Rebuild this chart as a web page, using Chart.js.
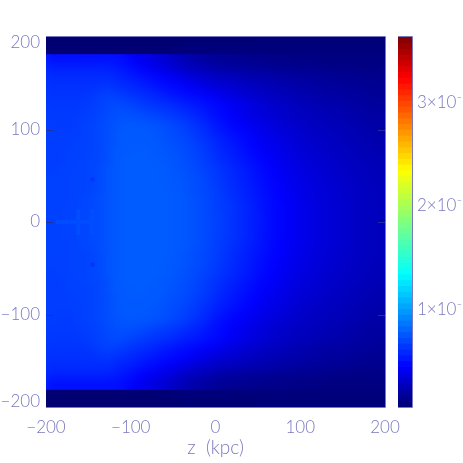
<!DOCTYPE html>
<html>
<head>
<meta charset="utf-8">
<title>z (kpc)</title>
<script src="https://cdn.jsdelivr.net/npm/chart.js@4/dist/chart.umd.min.js"></script>
<style>
  html, body { margin: 0; padding: 0; background: #fff; overflow: hidden; }
  canvas { position: absolute; left: 0; top: 0; }
</style>
</head>
<body>
<canvas id="map" width="463" height="463"></canvas>
<canvas id="bar" width="463" height="463"></canvas>
<script>
// cell centres along z (kpc)
const zCols = [-195,-185,-175,-165,-155,-145,-135,-125,-115,-105,-95,-85,-75,-65,-55,-45,-35,-25,-15,-5,
  5,15,25,35,45,55,65,75,85,95,105,115,125,135,145,155,165,175,185,195];
// row edges, top to bottom (kpc)
const rowEdges = [200,190,182,170,160,150,140,130,120,110,100,90,80,70,60,50,40,30,20,10,0,
  -10,-20,-30,-40,-50,-60,-70,-80,-90,-100,-110,-120,-130,-140,-150,-160,-170,-182,-190,-200];
// values, in units of 1e-9
const heat = [
  [6,6,6,6,6,6,6,6,6,6, 6,6,6,6,6,6,7,7,7,7, 7,7,7,7,7,8,8,8,8,8, 8,8,8,8,8,8,8,8,8,8],
  [6,6,6,6,6,6,6,6,6,6, 6,6,6,7,7,8,9,9,9,9, 9,9,9,9,9,9,9,9,9,9, 9,9,9,9,9,9,9,9,9,9],
  [50,50,50,50,50,50,50,50,50,47, 43,40,37,34,31,27,24,21,19,17, 16,15,14,14,13,13,12,12,12,11, 11,11,10,10,10,10,10,10,10,10],
  [57,57,57,57,57,57,57,56,54,51, 48,45,42,39,36,33,29,27,25,23, 21,20,19,18,17,17,16,15,15,14, 14,14,13,13,12,12,12,11,11,11],
  [60,60,60,60,60,60,60,60,58,56, 54,51,49,46,44,41,38,35,33,31, 29,28,27,25,24,23,22,21,20,19, 18,18,17,16,16,15,15,14,14,13],
  [62,62,62,62,62,62,63,64,62,60, 58,56,54,51,49,47,45,42,39,37, 35,33,31,29,28,26,25,24,23,22, 21,20,19,18,18,17,16,16,15,15],
  [63,63,63,63,63,65,67,68,67,65, 63,61,59,57,54,52,50,48,46,44, 41,38,36,34,32,30,28,27,26,24, 23,22,21,20,20,19,18,18,17,16],
  [64,64,64,64,65,66,68,70,71,70, 68,66,64,63,61,59,56,54,52,49, 47,44,41,39,36,34,32,30,29,27, 26,25,24,23,22,21,20,19,18,18],
  [65,65,65,65,66,67,69,71,73,73, 72,71,69,67,65,63,61,58,55,51, 48,45,42,39,37,35,33,31,30,28, 27,26,25,24,23,22,21,20,19,19],
  [66,65,64,66,67,68,70,72,74,75, 75,75,74,73,71,69,66,63,59,55, 51,48,45,43,40,38,36,34,32,31, 29,28,27,26,25,24,23,22,21,20],
  [66,66,66,66,67,68,70,72,75,76, 76,76,75,74,72,70,68,65,62,58, 54,51,48,46,43,40,38,36,34,32, 31,29,28,27,26,25,24,23,22,21],
  [66,66,66,67,67,68,70,72,75,76, 76,76,76,75,73,72,70,67,64,61, 57,54,51,48,45,42,40,38,36,34, 32,31,30,28,27,26,25,24,23,22],
  [66,66,67,67,67,68,70,73,76,76, 77,77,76,76,74,73,71,69,66,63, 59,56,53,50,47,44,42,40,37,35, 33,32,31,29,28,27,26,25,24,23],
  [66,66,67,67,68,69,70,73,76,77, 77,77,77,76,75,74,72,70,67,64, 61,58,55,52,49,46,44,41,39,37, 35,33,32,30,29,28,27,26,25,24],
  [66,67,67,68,68,69,71,74,76,77, 77,77,77,77,76,74,73,71,69,66, 63,60,57,54,51,48,45,43,40,38, 36,34,33,31,30,29,28,27,26,25],
  [67,67,67,68,68,69,71,74,76,77, 77,77,77,77,76,75,74,72,70,67, 64,61,58,55,52,49,46,44,41,39, 37,35,34,32,31,30,28,27,26,25],
  [67,67,67,68,68,69,71,74,76,77, 77,77,77,77,77,75,74,72,70,68, 65,62,59,56,53,50,47,45,42,40, 38,36,34,33,31,30,29,28,27,26],
  [67,67,67,68,69,70,72,74,76,77, 77,77,77,77,77,76,75,73,71,68, 66,63,60,57,54,51,48,45,43,41, 38,36,35,33,32,31,29,28,27,26],
  [67,67,68,68,69,70,72,74,76,77, 77,77,77,77,77,76,75,73,71,69, 66,64,61,58,55,51,48,46,43,41, 39,37,35,33,32,31,29,28,27,26],
  [67,67,68,68,69,70,72,74,76,77, 77,77,77,77,77,76,75,73,71,69, 67,64,61,58,55,52,48,46,43,41, 39,37,35,33,32,31,29,28,27,26],
  [67,67,68,68,69,70,72,74,76,77, 77,77,77,77,77,76,75,73,71,69, 67,64,61,58,55,52,48,46,43,41, 39,37,35,33,32,31,29,28,27,26],
  [67,67,68,68,69,70,72,74,76,77, 77,77,77,77,77,76,75,73,71,69, 66,64,61,58,55,51,48,46,43,41, 39,37,35,33,32,31,29,28,27,26],
  [67,67,67,68,69,70,72,74,76,77, 77,77,77,77,77,76,75,73,71,68, 66,63,60,57,54,51,48,45,43,41, 38,36,35,33,32,31,29,28,27,26],
  [67,67,67,68,68,69,71,74,76,77, 77,77,77,77,77,75,74,72,70,68, 65,62,59,56,53,50,47,45,42,40, 38,36,34,33,31,30,29,28,27,26],
  [67,67,67,68,68,69,71,74,76,77, 77,77,77,77,76,75,74,72,70,67, 64,61,58,55,52,49,46,44,41,39, 37,35,34,32,31,30,28,27,26,25],
  [66,67,67,68,68,69,71,74,76,77, 77,77,77,77,76,74,73,71,69,66, 63,60,57,54,51,48,45,43,40,38, 36,34,33,31,30,29,28,27,26,25],
  [66,66,67,67,68,69,70,73,76,77, 77,77,77,76,75,74,72,70,67,64, 61,58,55,52,49,46,44,41,39,37, 35,33,32,30,29,28,27,26,25,24],
  [66,66,67,67,67,68,70,73,76,76, 77,77,76,76,74,73,71,69,66,63, 59,56,53,50,47,44,42,40,37,35, 33,32,31,29,28,27,26,25,24,23],
  [66,66,66,67,67,68,70,72,75,76, 76,76,76,75,73,72,70,67,64,61, 57,54,51,48,45,42,40,38,36,34, 32,31,30,28,27,26,25,24,23,22],
  [66,66,66,66,67,68,70,72,75,76, 76,76,75,74,72,70,68,65,62,58, 54,51,48,46,43,40,38,36,34,32, 31,29,28,27,26,25,24,23,22,21],
  [66,65,64,66,67,68,70,72,74,75, 75,75,74,73,71,69,66,63,59,55, 51,48,45,43,40,38,36,34,32,31, 29,28,27,26,25,24,23,22,21,20],
  [65,65,65,65,66,67,69,71,73,73, 72,71,69,67,65,63,61,58,55,51, 48,45,42,39,37,35,33,31,30,28, 27,26,25,24,23,22,21,20,19,19],
  [64,64,64,64,65,66,68,70,71,70, 68,66,64,63,61,59,56,54,52,49, 47,44,41,39,36,34,32,30,29,27, 26,25,24,23,22,21,20,19,18,18],
  [63,63,63,63,63,65,67,68,67,65, 63,61,59,57,54,52,50,48,46,44, 41,38,36,34,32,30,28,27,26,24, 23,22,21,20,20,19,18,18,17,16],
  [62,62,62,62,62,62,63,64,62,60, 58,56,54,51,49,47,45,42,39,37, 35,33,31,29,28,26,25,24,23,22, 21,20,19,18,18,17,16,16,15,15],
  [60,60,60,60,60,60,60,60,58,56, 54,51,49,46,44,41,38,35,33,31, 29,28,27,25,24,23,22,21,20,19, 18,18,17,16,16,15,15,14,14,13],
  [57,57,57,57,57,57,57,56,54,51, 48,45,42,39,36,33,29,27,25,23, 21,20,19,18,17,17,16,15,15,14, 14,14,13,13,12,12,12,11,11,11],
  [50,50,50,50,50,50,50,50,50,47, 43,40,37,34,31,27,24,21,19,17, 16,15,14,14,13,13,12,12,12,11, 11,11,10,10,10,10,10,10,10,10],
  [6,6,6,6,6,6,6,6,6,6, 6,6,6,7,7,8,9,9,9,9, 9,9,9,9,9,9,9,9,9,9, 9,9,9,9,9,9,9,9,9,9],
  [6,6,6,6,6,6,6,6,6,6, 6,6,6,6,6,6,7,7,7,7, 7,7,7,7,7,8,8,8,8,8, 8,8,8,8,8,8,8,8,8,8]
];
// the dark bands along the top and bottom edge stay sharp
const bandRows = [0, 1, 38, 39];

// small lighter and darker marks left of the bright region: z, y low, y high, value
const markZ = [-186,-181,-176,-171,-166,-161,-156,-151,-146, -162,-162,-162,-162, -146,-146,-146,-146, -145,-145];
const markLow = [-2,-2,-2,-2,-2,-2,-2,-2,-2, 2,8,-8,-14, 2,8,-8,-14, 44,-48];
const markHigh = [2,2,2,2,2,2,2,2,2, 8,14,-2,-8, 8,14,-2,-8, 48,-44];
const markValue = [72,72,72,72,72,72,72,72,72, 72,72,72,72, 72,72,72,72, 63,63];

const axisTicks = [-200, -100, 0, 100, 200];
const barTicks = [1, 2, 3];
const barTickLabels = ["1×10⁻", "2×10⁻", "3×10⁻"];
const barMin = 5.3, barMax = 363;
const nLevels = 64;

// colour table (position, r, g, b)
const jet = [[0,0,0,112],[0.11,0,0,255],[0.36,0,255,255],[0.5,127,255,127],[0.64,255,255,0],[0.89,255,0,0],[1,127,0,0]];

const ink = "#7878c0";
const font = { family: "Lato", size: 17, weight: "300", lineHeight: 0.7 };

function colorFor(v) {
  const t = Math.max(0, Math.min(1, (v - barMin) / (barMax - barMin)));
  for (let i = 1; i < jet.length; i++) {
    if (t <= jet[i][0]) {
      const a = jet[i - 1], b = jet[i], f = (t - a[0]) / (b[0] - a[0]);
      return `rgb(${Math.round(a[1] + (b[1] - a[1]) * f)},${Math.round(a[2] + (b[2] - a[2]) * f)},${Math.round(a[3] + (b[3] - a[3]) * f)})`;
    }
  }
  return "rgb(127,0,0)";
}

function fmt(v) { return v < 0 ? "\u2212" + Math.abs(v) : String(v); }

const bodyCells = [], bodyColors = [], bandCells = [], bandColors = [];
heat.forEach((row, r) => row.forEach((v, c) => {
  if (bandRows.includes(r)) {
    bandCells.push({ x: zCols[c], y: [rowEdges[r + 1], rowEdges[r]] });
    bandColors.push(colorFor(v));
  } else {
    // body rows next to a band run on under it, so the smoothing stops at a clean edge
    const hi = r === 2 ? 200 : rowEdges[r];
    const lo = r === 37 ? -200 : rowEdges[r + 1];
    bodyCells.push({ x: zCols[c], y: [lo, hi] });
    bodyColors.push(colorFor(v));
  }
}));
const markCells = markZ.map((z, i) => ({ x: z, y: [markLow[i], markHigh[i]] }));
const markColors = markValue.map(colorFor);

// soften the block edges of the body cells, the reference is a fine grid
const smoothBody = {
  id: "smoothBody",
  afterDatasetDraw(chart, args) {
    if (args.index !== 0) return;
    const a = chart.chartArea, m = 14;
    const w = a.right - a.left, h = a.bottom - a.top;
    const off = document.createElement("canvas");
    off.width = w + 2 * m;
    off.height = h + 2 * m;
    const o = off.getContext("2d");
    o.drawImage(chart.canvas, a.left + 1, a.top + 1, w - 2, h - 2, 0, 0, off.width, off.height);
    o.drawImage(chart.canvas, a.left, a.top, w, h, m, m, w, h);
    const ctx = chart.ctx;
    ctx.save();
    ctx.beginPath();
    ctx.rect(a.left, a.top, w, h);
    ctx.clip();
    ctx.filter = "blur(4.5px)";
    ctx.drawImage(off, a.left - m, a.top - m);
    ctx.restore();
  }
};

// box round the map and the short inward ticks
const mapFrame = {
  id: "mapFrame",
  afterDatasetsDraw(chart) {
    const { ctx, chartArea: a, scales } = chart;
    ctx.save();
    ctx.lineWidth = 1;
    ctx.strokeStyle = "#2030a0";
    axisTicks.slice(1, -1).forEach(v => {
      const y = Math.round(scales.y.getPixelForValue(v)) + 0.5;
      ctx.beginPath();
      ctx.moveTo(a.left, y); ctx.lineTo(a.left + 7, y);
      ctx.moveTo(a.right - 7, y); ctx.lineTo(a.right, y);
      ctx.stroke();
    });
    ctx.strokeStyle = ink;
    ctx.beginPath();
    ctx.moveTo(a.left, a.top - 0.5); ctx.lineTo(a.right + 0.5, a.top - 0.5);
    ctx.lineTo(a.right + 0.5, a.bottom + 0.5); ctx.lineTo(a.left, a.bottom + 0.5);
    ctx.stroke();
    ctx.restore();
  }
};

new Chart(document.getElementById("map"), {
  type: "bar",
  data: {
    datasets: [
      { data: bodyCells, backgroundColor: bodyColors, borderWidth: 0, barThickness: 8.6, inflateAmount: 0.5, grouped: false, order: 3 },
      { data: markCells, backgroundColor: markColors, borderWidth: 0, barThickness: 4, inflateAmount: 0, grouped: false, order: 2 },
      { data: bandCells, backgroundColor: bandColors, borderWidth: 0, barThickness: 8.6, inflateAmount: 0.5, grouped: false, order: 1 }
    ]
  },
  options: {
    responsive: false,
    animation: false,
    events: [],
    layout: { padding: { top: 37, right: 78, bottom: 0, left: 0 } },
    plugins: { legend: { display: false }, tooltip: { enabled: false } },
    scales: {
      x: {
        type: "linear", min: -200, max: 200, offset: false,
        afterFit: s => { s.height = 56; },
        afterBuildTicks: s => { s.ticks = axisTicks.map(v => ({ value: v })); },
        grid: { display: false, drawTicks: false }, border: { display: false },
        ticks: { color: ink, font: font, padding: 15, maxRotation: 0, autoSkip: false, callback: fmt },
        title: { display: true, text: "z  (kpc)", color: ink, font: { family: "Lato", size: 19, weight: "300" }, padding: { top: 0, bottom: 4 } }
      },
      y: {
        type: "linear", min: -200, max: 200,
        afterFit: s => { s.width = 46; },
        afterBuildTicks: s => { s.ticks = axisTicks.map(v => ({ value: v })); },
        grid: { display: false, drawTicks: false }, border: { display: false },
        ticks: {
          color: ink, font: font, padding: 6, autoSkip: false,
          // the two end labels sit just inside the box
          callback: v => v === 200 ? ["", fmt(v)] : v === -200 ? [fmt(v), ""] : fmt(v)
        }
      }
    }
  },
  plugins: [smoothBody, mapFrame]
});

// colour bar
const barCells = [], barColors = [];
for (let i = 0; i < nLevels; i++) {
  const lo = barMin + (barMax - barMin) * i / nLevels;
  const hi = barMin + (barMax - barMin) * (i + 1) / nLevels;
  barCells.push({ x: 0.5, y: [lo / 100, hi / 100] });
  barColors.push(colorFor((lo + hi) / 2));
}

const barFrame = {
  id: "barFrame",
  afterDatasetsDraw(chart) {
    const { ctx, chartArea: a } = chart;
    ctx.save();
    ctx.strokeStyle = ink;
    ctx.lineWidth = 1;
    ctx.beginPath();
    ctx.moveTo(a.left, a.top - 0.5); ctx.lineTo(a.right + 0.5, a.top - 0.5);
    ctx.lineTo(a.right + 0.5, a.bottom + 0.5); ctx.lineTo(a.left, a.bottom + 0.5);
    ctx.stroke();
    ctx.restore();
  }
};

new Chart(document.getElementById("bar"), {
  type: "bar",
  data: { datasets: [{ data: barCells, backgroundColor: barColors, borderWidth: 0, barThickness: 16, inflateAmount: 0.4 }] },
  options: {
    responsive: false,
    animation: false,
    events: [],
    layout: { padding: { top: 37, right: 0, bottom: 56, left: 398 } },
    plugins: { legend: { display: false }, tooltip: { enabled: false } },
    scales: {
      x: { type: "linear", min: 0, max: 1, offset: false, display: false },
      y: {
        type: "linear", position: "right", min: barMin / 100, max: barMax / 100,
        afterFit: s => { s.width = 51; },
        afterBuildTicks: s => { s.ticks = barTicks.map(v => ({ value: v })); },
        grid: { display: false, drawTicks: false }, border: { display: false },
        ticks: {
          color: ink, font: { family: "Lato", size: 17, weight: "300" }, padding: 5, autoSkip: false,
          callback: v => barTickLabels[barTicks.indexOf(v)]
        }
      }
    }
  },
  plugins: [barFrame]
});
</script>
</body>
</html>
